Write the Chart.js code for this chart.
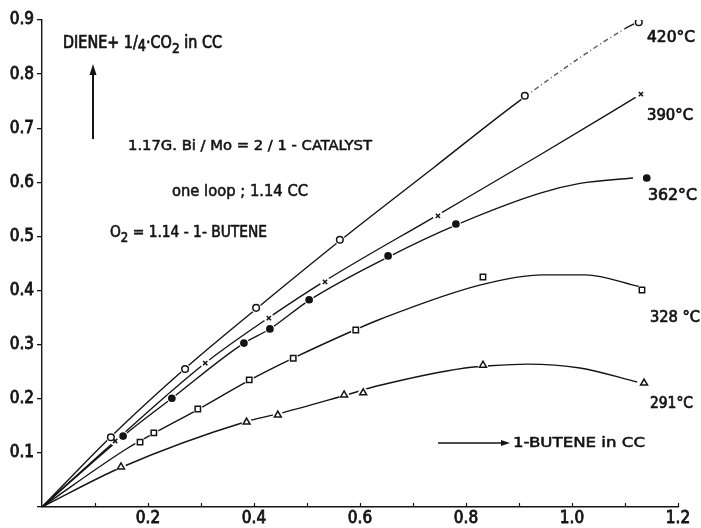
<!DOCTYPE html>
<html>
<head>
<meta charset="utf-8">
<script src="https://cdn.jsdelivr.net/npm/chart.js@4/dist/chart.umd.min.js"></script>
<style>
  html, body { margin: 0; padding: 0; background: #fff; }
  canvas { display: block; }
</style>
</head>
<body>
<canvas id="chart" width="701" height="528"></canvas>
<script>
// Measured points: x = 1-butene in CC, y = diene + 1/4 CO2 in CC
const t420X = [0.130, 0.270, 0.404, 0.562, 0.911, 1.126];
const t420Y = [0.129, 0.255, 0.368, 0.494, 0.760, 0.896];

const t390X = [0.138, 0.308, 0.428, 0.534, 0.747, 1.130];
const t390Y = [0.122, 0.266, 0.349, 0.416, 0.538, 0.763];

const t362X = [0.153, 0.245, 0.381, 0.430, 0.504, 0.653, 0.781, 1.141];
const t362Y = [0.131, 0.201, 0.303, 0.329, 0.383, 0.464, 0.523, 0.608];

const t328X = [0.185, 0.211, 0.294, 0.391, 0.474, 0.592, 0.832, 1.132];
const t328Y = [0.120, 0.137, 0.181, 0.235, 0.275, 0.327, 0.425, 0.401];

const t291X = [0.149, 0.386, 0.445, 0.570, 0.606, 0.832, 1.136];
const t291Y = [0.074, 0.157, 0.170, 0.207, 0.211, 0.262, 0.229];

// Smoothed curves through each set of points, starting at the origin
const c420X = [0, 0.130, 0.270, 0.404, 0.562, 0.740, 0.911, 1.100, 1.120];
const c420Y = [0, 0.130, 0.256, 0.366, 0.492, 0.628, 0.758, 0.884, 0.894];

const c390X = [0, 0.138, 0.308, 0.428, 0.534, 0.747, 0.940, 1.120];
const c390Y = [0, 0.122, 0.266, 0.350, 0.418, 0.540, 0.651, 0.757];

const c362X = [0, 0.153, 0.245, 0.381, 0.430, 0.504, 0.653, 0.781, 0.940, 1.015, 1.115];
const c362Y = [0, 0.131, 0.201, 0.303, 0.329, 0.382, 0.462, 0.521, 0.580, 0.598, 0.608];

const c328X = [0, 0.162, 0.211, 0.294, 0.391, 0.474, 0.592, 0.638, 0.826, 0.945, 1.025, 1.128];
const c328Y = [0, 0.109, 0.136, 0.180, 0.234, 0.275, 0.328, 0.347, 0.410, 0.429, 0.429, 0.407];

const c291X = [0, 0.149, 0.386, 0.445, 0.570, 0.638, 0.798, 0.845, 0.915, 1.015, 1.123];
const c291Y = [0, 0.073, 0.158, 0.172, 0.206, 0.225, 0.257, 0.261, 0.264, 0.257, 0.231];

const seriesNames = ['420°C', '390°C', '362°C', '328°C', '291°C'];

// Axis tick labels
const xTickLabels = ['0.2', '0.4', '0.6', '0.8', '1.0', '1.2'];
const yTickLabels = ['0.1', '0.2', '0.3', '0.4', '0.5', '0.6', '0.7', '0.8', '0.9'];

const FONT = "'DejaVu Sans Condensed', 'DejaVu Sans', sans-serif";
const INK = '#141414';

function pts(xs, ys) { return xs.map((x, i) => ({ x: x, y: ys[i] })); }

const series = [
  { name: seriesNames[0], mx: t420X, my: t420Y, cx: c420X, cy: c420Y, style: 'circle',   r: 3.3, filled: false },
  { name: seriesNames[1], mx: t390X, my: t390Y, cx: c390X, cy: c390Y, style: 'crossRot', r: 3.0, filled: false },
  { name: seriesNames[2], mx: t362X, my: t362Y, cx: c362X, cy: c362Y, style: 'circle',   r: 3.1, filled: true  },
  { name: seriesNames[3], mx: t328X, my: t328Y, cx: c328X, cy: c328Y, style: 'rect',     r: 3.8, filled: false },
  { name: seriesNames[4], mx: t291X, my: t291Y, cx: c291X, cy: c291Y, style: 'triangle', r: 4.0, filled: false }
];

const datasets = [];
series.forEach((s, i) => {
  const curve = {
    label: s.name + ' curve',
    data: pts(s.cx, s.cy),
    showLine: true,
    borderColor: INK,
    borderWidth: 1.4,
    pointRadius: 0,
    cubicInterpolationMode: 'monotone',
    order: 3
  };
  if (i === 0) {
    // the upper stretch of the 420 °C curve is broken into dash-dots
    curve.segment = {
      borderDash: c => (c.p0.parsed.x >= 0.9 && c.p1.parsed.x <= 1.101) ? [5, 3, 1, 3] : undefined,
      borderColor: c => (c.p0.parsed.x >= 0.9 && c.p1.parsed.x <= 1.101) ? '#555' : undefined
    };
  }
  datasets.push(curve);
  // white halo that opens a small gap in the curve around each point
  datasets.push({
    label: s.name + ' halo',
    data: pts(s.mx, s.my),
    showLine: false,
    pointRadius: 5,
    pointStyle: 'circle',
    pointBackgroundColor: '#fff',
    pointBorderWidth: 0,
    order: 2
  });
  datasets.push({
    label: s.name,
    data: pts(s.mx, s.my),
    showLine: false,
    pointStyle: s.style,
    pointRadius: s.r,
    pointBackgroundColor: s.filled ? INK : '#fff',
    pointBorderColor: INK,
    pointBorderWidth: 1.5,
    order: 1
  });
});

// text drawn as runs (with sub/superscript offsets), stretched to a set width
function drawRuns(ctx, runs, x, baseline, width, size, stroke) {
  let total = 0;
  const widths = runs.map(r => {
    ctx.font = `${size * r[1]}px ${FONT}`;
    const w = ctx.measureText(r[0]).width;
    total += w;
    return w;
  });
  const k = width / total;
  ctx.save();
  ctx.translate(x, baseline);
  ctx.scale(k, 1);
  ctx.textBaseline = 'alphabetic';
  ctx.textAlign = 'left';
  ctx.lineWidth = stroke;
  ctx.lineJoin = 'round';
  let cx = 0;
  runs.forEach((r, i) => {
    ctx.font = `${size * r[1]}px ${FONT}`;
    ctx.fillText(r[0], cx, r[2]);
    if (stroke > 0) ctx.strokeText(r[0], cx, r[2]);
    cx += widths[i];
  });
  ctx.restore();
}

function arrowHead(ctx, tipX, tipY, dx, dy, len, half) {
  const bx = tipX - dx * len, by = tipY - dy * len;
  ctx.beginPath();
  ctx.moveTo(tipX, tipY);
  ctx.lineTo(bx - dy * half, by + dx * half);
  ctx.lineTo(bx + dy * half, by - dx * half);
  ctx.closePath();
  ctx.fill();
}

const annotations = {
  id: 'annotations',
  afterDraw(chart) {
    const ctx = chart.ctx;
    const xs = chart.scales.x;
    const area = chart.chartArea;
    ctx.save();
    ctx.fillStyle = INK;
    ctx.strokeStyle = INK;

    // short inward ticks on the x axis
    ctx.lineWidth = 1.2;
    for (let k = 1; k <= 12; k++) {
      const px = Math.round(xs.getPixelForValue(k / 10)) + 0.5;
      ctx.beginPath();
      ctx.moveTo(px, area.bottom);
      ctx.lineTo(px, area.bottom - 4);
      ctx.stroke();
    }

    // y-axis caption and arrow
    drawRuns(ctx, [['DIENE+ 1/', 1, 0], ['4', 0.9, 3], ['·CO', 1, 0], ['2', 0.85, 5], [' in CC', 1, 0]], 63, 48, 159, 17, 0.7);
    ctx.lineWidth = 2;
    ctx.beginPath();
    ctx.moveTo(93, 139);
    ctx.lineTo(93, 74);
    ctx.stroke();
    arrowHead(ctx, 93, 64, 0, -1, 11, 3.5);

    // experiment conditions
    drawRuns(ctx, [['1.17G. Bi / Mo = 2 / 1 - CATALYST', 1, 0]], 128, 150, 244, 14, 0.5);
    drawRuns(ctx, [['one loop ; 1.14 CC', 1, 0]], 172, 196, 136, 15, 0.5);
    drawRuns(ctx, [['O', 1, 0], ['2', 0.85, 5], [' = 1.14 - 1- BUTENE', 1, 0]], 110, 237, 157, 16, 0.6);

    // x-axis caption and arrow
    ctx.lineWidth = 1.4;
    ctx.beginPath();
    ctx.moveTo(438, 443);
    ctx.lineTo(502, 443);
    ctx.stroke();
    arrowHead(ctx, 510, 443, 1, 0, 9, 3);
    drawRuns(ctx, [['1-BUTENE in CC', 1, 0]], 513, 447, 132, 14, 0.5);

    // temperature of each curve
    drawRuns(ctx, [['420', 1, 0], ['°', 1, 0], ['C', 1, 0]], 647, 42, 48, 16, 0.7);
    drawRuns(ctx, [['390', 1, 0], ['°', 1, 0], ['C', 1, 0]], 647, 120, 46, 16, 0.7);
    drawRuns(ctx, [['362', 1, 0], ['°', 1, 0], ['C', 1, 0]], 648, 200, 49, 16, 0.7);
    drawRuns(ctx, [['328 ', 1, 0], ['°', 1, 0], ['C', 1, 0]], 650, 322, 50, 16, 0.7);
    drawRuns(ctx, [['291', 1, 0], ['°', 1, 0], ['C', 1, 0]], 650, 408, 43, 16, 0.7);

    ctx.restore();
  }
};

function labelFor(value, labels) {
  const s = value.toFixed(1);
  return labels.includes(s) ? s : '';
}

new Chart(document.getElementById('chart'), {
  type: 'scatter',
  data: { datasets: datasets },
  options: {
    responsive: false,
    animation: false,
    events: [],
    layout: { padding: { left: 0, top: 20, right: 23, bottom: 0 } },
    plugins: { legend: { display: false }, tooltip: { enabled: false } },
    scales: {
      x: {
        type: 'linear',
        min: 0,
        max: 1.2,
        afterFit: s => { s.height = 21; },
        grid: { display: false, drawTicks: false },
        border: { display: true, color: INK, width: 1.4 },
        ticks: {
          stepSize: 0.1,
          autoSkip: false,
          maxRotation: 0,
          padding: 1,
          color: INK,
          textStrokeColor: INK,
          textStrokeWidth: 0.8,
          font: { family: FONT, size: 17 },
          callback: v => labelFor(v, xTickLabels)
        }
      },
      y: {
        type: 'linear',
        min: 0,
        max: 0.9,
        afterFit: s => { s.width = 42; },
        grid: { drawOnChartArea: false, color: INK, lineWidth: 1.3, tickLength: 5 },
        border: { display: true, color: INK, width: 1.4 },
        ticks: {
          stepSize: 0.1,
          autoSkip: false,
          padding: 3,
          color: INK,
          textStrokeColor: INK,
          textStrokeWidth: 0.8,
          font: { family: FONT, size: 17 },
          callback: v => labelFor(v, yTickLabels)
        }
      }
    }
  },
  plugins: [annotations]
});
</script>
</body>
</html>
